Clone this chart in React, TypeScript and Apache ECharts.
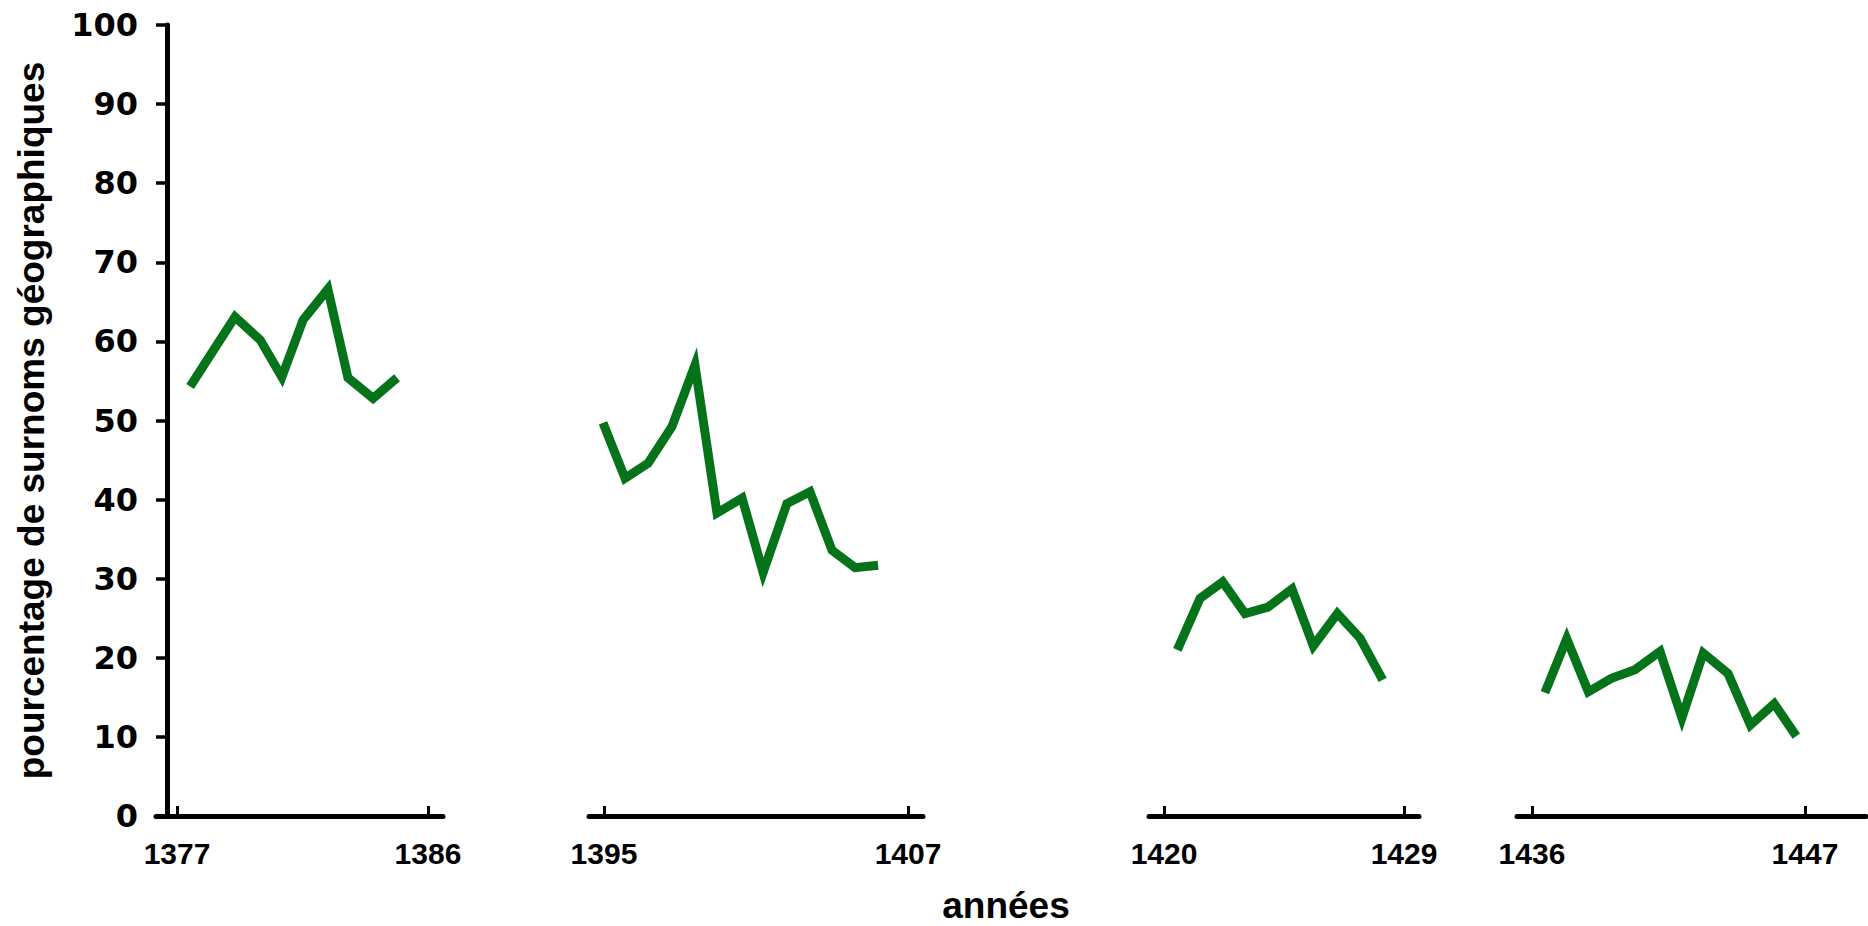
import React, { useEffect, useRef } from "react";
import * as echarts from "echarts";

// ---- data ----
const seg1Years = [1377.47, 1379.08, 1379.98, 1380.76, 1381.52, 1382.41, 1383.13, 1384.03, 1384.89];
const seg1Values = [54.3, 63.1, 60.2, 55.5, 62.7, 66.6, 55.4, 52.8, 55.4];

const seg2Years = [1394.96, 1395.83, 1396.74, 1397.68, 1398.59, 1399.46, 1400.45, 1401.28, 1402.22, 1403.13, 1404.0, 1404.91, 1405.82];
const seg2Values = [49.7, 42.7, 44.6, 49.2, 57.0, 38.3, 40.2, 30.8, 39.5, 41.0, 33.6, 31.4, 31.7];

const seg3Years = [1420.5, 1421.35, 1422.2, 1423.04, 1423.9, 1424.8, 1425.6, 1426.5, 1427.35, 1428.2];
const seg3Values = [21.0, 27.5, 29.6, 25.6, 26.4, 28.7, 21.5, 25.6, 22.5, 17.2];

const seg4Years = [1436.52, 1437.4, 1438.27, 1439.2, 1440.15, 1441.16, 1442.04, 1442.9, 1443.9, 1444.8, 1445.76, 1446.65];
const seg4Values = [15.6, 22.4, 15.7, 17.4, 18.5, 20.8, 12.4, 20.6, 18.0, 11.5, 14.2, 10.1];

const seg1Ticks = [1377, 1386];
const seg2Ticks = [1395, 1407];
const seg3Ticks = [1420, 1429];
const seg4Ticks = [1436, 1447];

const yMin = 0;
const yMax = 100;
const yInterval = 10;

const yTitle = "pourcentage de surnoms géographiques";
const xTitle = "années";

// ---- layout / style ----
const GREEN = "#04731a";
const segments = [
  { years: seg1Years, values: seg1Values, ticks: seg1Ticks, left: 156, width: 287, min: 1376.247, max: 1386.538 },
  { years: seg2Years, values: seg2Values, ticks: seg2Ticks, left: 589, width: 334, min: 1394.408, max: 1407.592 },
  { years: seg3Years, values: seg3Values, ticks: seg3Ticks, left: 1149, width: 270, min: 1419.4375, max: 1429.5625 },
  { years: seg4Years, values: seg4Values, ticks: seg4Ticks, left: 1517, width: 349, min: 1435.396, max: 1449.458 },
];

const TOP = 25;
const HEIGHT = 791;

export default function App() {
  const ref = useRef<HTMLDivElement>(null);

  useEffect(() => {
    document.body.style.margin = "0";
    const chart = echarts.init(ref.current as HTMLDivElement, null, { renderer: "svg" });

    const grids: any[] = [{ left: 167, top: TOP, width: 1, height: HEIGHT }];
    const xAxes: any[] = [{ type: "value", gridIndex: 0, show: false, min: 0, max: 1 }];
    const yAxes: any[] = [
      {
        type: "value",
        gridIndex: 0,
        min: yMin,
        max: yMax,
        interval: yInterval,
        name: yTitle,
        nameLocation: "middle",
        nameGap: 117,
        nameTextStyle: {
          fontFamily: "'Liberation Sans', Arial, sans-serif",
          fontWeight: "bold",
          fontSize: 37,
          color: "#000",
        },
        axisLine: { show: true, lineStyle: { color: "#000", width: 5 } },
        axisTick: { show: true, inside: false, length: 11, lineStyle: { color: "#000", width: 3.5 } },
        axisLabel: {
          margin: 29,
          fontFamily: "'DejaVu Sans', sans-serif",
          fontWeight: "bold",
          fontSize: 32,
          color: "#000",
        },
        splitLine: { show: false },
      },
    ];
    const series: any[] = [];

    segments.forEach((s, i) => {
      const gi = i + 1;
      grids.push({ left: s.left, top: TOP, width: s.width, height: HEIGHT });
      xAxes.push({
        type: "value",
        gridIndex: gi,
        min: s.min,
        max: s.max,
        axisLine: { show: true, onZero: false, lineStyle: { color: "#000", width: 5 } },
        axisTick: {
          show: true,
          inside: true,
          length: 10,
          customValues: s.ticks,
          lineStyle: { color: "#000", width: 3 },
        },
        axisLabel: {
          show: true,
          customValues: s.ticks,
          margin: 22,
          fontFamily: "'Liberation Sans', Arial, sans-serif",
          fontWeight: "bold",
          fontSize: 30,
          color: "#000",
          formatter: (v: number) => String(v),
        },
        splitLine: { show: false },
      });
      yAxes.push({ type: "value", gridIndex: gi, min: yMin, max: yMax, show: false });
      series.push({
        type: "line",
        xAxisIndex: gi,
        yAxisIndex: gi,
        data: s.years.map((y, k) => [y, s.values[k]]),
        showSymbol: false,
        symbol: "none",
        clip: false,
        lineStyle: { color: GREEN, width: 9, join: "miter", miterLimit: 10, cap: "butt" },
      });
    });

    chart.setOption({
      animation: false,
      backgroundColor: "#fff",
      grid: grids,
      xAxis: xAxes,
      yAxis: yAxes,
      series,
      graphic: [
        {
          type: "text",
          x: 1006,
          y: 905,
          style: {
            text: xTitle,
            textAlign: "center",
            textVerticalAlign: "middle",
            fontFamily: "'Liberation Sans', Arial, sans-serif",
            fontWeight: "bold",
            fontSize: 37,
            fill: "#000",
          },
        },
      ],
    });

    return () => chart.dispose();
  }, []);

  return (
    <div
      ref={ref}
      style={{ position: "fixed", left: 0, top: 0, width: 1868, height: 926, background: "#fff" }}
    />
  );
}
